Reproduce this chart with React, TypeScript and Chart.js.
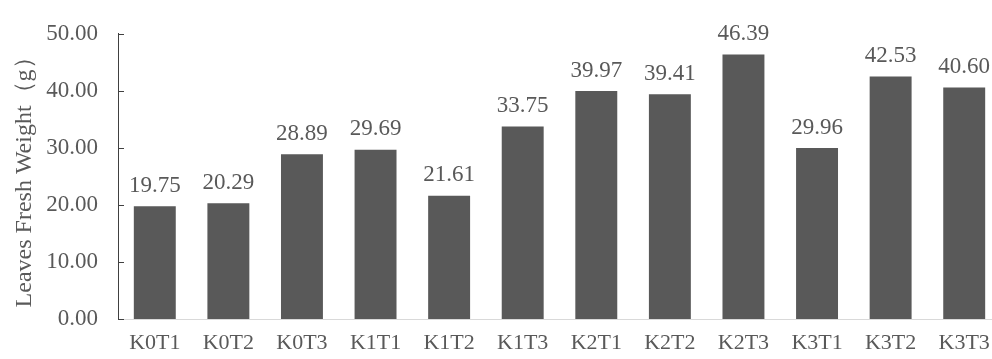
import React, { useEffect, useRef } from "react";
import { Chart, registerables } from "chart.js";

Chart.register(...registerables);

const categories = ["K0T1", "K0T2", "K0T3", "K1T1", "K1T2", "K1T3", "K2T1", "K2T2", "K2T3", "K3T1", "K3T2", "K3T3"];
const values = [19.75, 20.29, 28.89, 29.69, 21.61, 33.75, 39.97, 39.41, 46.39, 29.96, 42.53, 40.6];
const yTitle = "Leaves Fresh Weight（g）";

const FONT = "'Liberation Serif', 'Times New Roman', serif";
const TEXT = "#595959";

const overlay = {
  id: "overlay",
  afterDatasetsDraw(chart: any) {
    const ctx = chart.ctx;
    const meta = chart.getDatasetMeta(0);
    ctx.save();
    ctx.font = `23px ${FONT}`;
    ctx.fillStyle = TEXT;
    ctx.textAlign = "center";
    ctx.textBaseline = "bottom";
    meta.data.forEach((bar: any, i: number) => {
      ctx.fillText(values[i].toFixed(2), bar.x, bar.y - 9);
    });
    // inward ticks on y axis
    const y = chart.scales.y;
    const left = chart.chartArea.left;
    ctx.strokeStyle = "#404040";
    ctx.lineWidth = 1;
    y.ticks.forEach((t: any) => {
      const py = Math.round(y.getPixelForValue(t.value)) + 0.5;
      ctx.beginPath();
      ctx.moveTo(left, py);
      ctx.lineTo(left + 6, py);
      ctx.stroke();
    });
    ctx.restore();
  },
};

export default function App() {
  const ref = useRef<HTMLCanvasElement | null>(null);
  useEffect(() => {
    if (!ref.current) return;
    const chart = new Chart(ref.current, {
      type: "bar",
      data: {
        labels: categories,
        datasets: [
          {
            data: values,
            backgroundColor: "#595959",
            borderWidth: 0,
            categoryPercentage: 1,
            barPercentage: 0.57,
          },
        ],
      },
      plugins: [overlay],
      options: {
        animation: false,
        responsive: false,
        maintainAspectRatio: false,
        layout: { padding: { top: 27, right: 9, left: 0, bottom: 0 } },
        plugins: { legend: { display: false }, tooltip: { enabled: false } },
        scales: {
          x: {
            grid: { display: false, drawTicks: false },
            border: { display: true, color: "#d9d9d9", width: 1 },
            ticks: { color: TEXT, font: { family: FONT, size: 22 }, padding: 11, maxRotation: 0, autoSkip: false },
            afterFit(s: any) {
              s.height = 40;
            },
          },
          y: {
            min: 0,
            max: 50,
            grid: { display: false, drawTicks: false },
            border: { display: true, color: "#404040", width: 1 },
            ticks: {
              stepSize: 10,
              color: TEXT,
              font: { family: FONT, size: 23 },
              padding: 20,
              callback: (v: any) => Number(v).toFixed(2),
            },
            title: {
              display: true,
              text: yTitle,
              color: TEXT,
              font: { family: FONT, size: 24 },
              padding: { top: 10, bottom: 0 },
            },
            afterFit(s: any) {
              s.width = 118;
            },
          },
        },
      },
    });
    return () => chart.destroy();
  }, []);
  return (
    <div style={{ position: "absolute", left: 0, top: 0, width: 992, height: 359, overflow: "hidden", background: "#fff" }}>
      <canvas ref={ref} width={1010} height={359} style={{ width: 1010, height: 359 }} />
    </div>
  );
}
